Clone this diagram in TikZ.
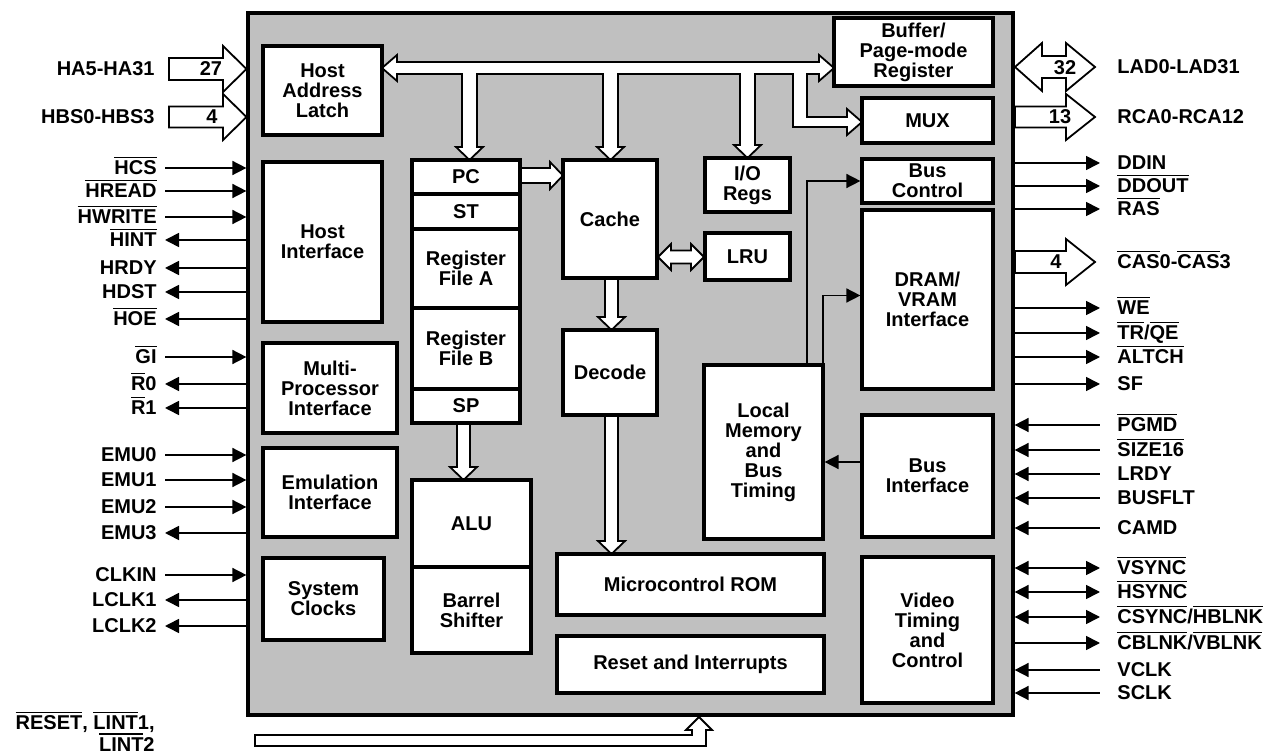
\documentclass[tikz,border=0pt]{standalone}
\usepackage{fontspec}
\setmainfont{Liberation Sans}
\usetikzlibrary{
    arrows.meta,
    positioning
}
\definecolor{silicon}{RGB}{192,192,192}
\newcommand{\nbar}[1]{\leavevmode\vbox{\hrule height 0.7pt\kern 1.3pt\hbox{#1}}}

\begin{document}
\begin{tikzpicture}[x=0.5pt, y=-0.5pt, >={Triangle[length=7pt, width=7pt]},
    blk/.style={draw, fill=white, line width=1.6pt, inner sep=0pt, align=center,
        font=\fontsize{10}{10}\selectfont\bfseries},
    lbl/.style={inner sep=0pt, font=\fontsize{10}{12}\selectfont\bfseries},
    pin/.style={line width=0.8pt},
    bus/.style={draw, fill=white, line width=0.9pt, line join=miter}]

    \useasboundingbox (0,0) rectangle (1275,753);

    % Chip
    \node[draw, fill=silicon, line width=1.6pt, minimum width=382.5pt, minimum height=351pt] (chip) at (630.5,364) {};

    % Host address inputs
    \draw[bus] (169,58) -- (223,58) -- (223,46) -- (246.5,69) -- (223,92) -- (223,80) -- (169,80) -- cycle;
    \draw[bus] (169,106.5) -- (223,106.5) -- (223,94) -- (246.5,117) -- (223,140) -- (223,127.5) -- (169,127.5) -- cycle;
    \node[lbl] (n27) at (211,69) {27};
    \node[lbl] (n4a) at (212,117) {4};
    \node[lbl, anchor=base east] (ha) at (155,75.5) {HA5-HA31};
    \node[lbl, anchor=base east] (hbs) at (155,123.5) {HBS0-HBS3};

    % Local bus outputs
    \draw[bus] (1015,67) -- (1042,43) -- (1042,56) -- (1066,56) -- (1066,43) -- (1095,67)
        -- (1066,91) -- (1066,78) -- (1042,78) -- (1042,91) -- cycle;
    \draw[bus] (1015,106.5) -- (1066,106.5) -- (1066,94) -- (1095,117) -- (1066,140) -- (1066,127.5) -- (1015,127.5) -- cycle;
    \draw[bus] (1015,251) -- (1066,251) -- (1066,239) -- (1095,262) -- (1066,285) -- (1066,273) -- (1015,273) -- cycle;
    \node[lbl] (n32) at (1065,68) {32};
    \node[lbl] (n13) at (1060,117) {13};
    \node[lbl] (n4b) at (1056,262) {4};
    \node[lbl, anchor=base west] (lad) at (1117,73.5) {LAD0-LAD31};
    \node[lbl, anchor=base west] (rca) at (1117,123.5) {RCA0-RCA12};
    \node[lbl, anchor=base west] (cas) at (1117,268.5) {\nbar{CAS}0-\nbar{CAS}3};

    % Internal bus
    \draw[bus] (382,68) -- (397,55) -- (397,62) -- (819,62) -- (819,55) -- (834,68)
        -- (819,81) -- (819,74) -- (807,74) -- (807,117) -- (847,117) -- (847,109)
        -- (862,122) -- (847,135) -- (847,127) -- (793,127) -- (793,74)
        -- (755,74) -- (755,145) -- (761,145) -- (747.5,158) -- (734,145) -- (740,145) -- (740,74)
        -- (618,74) -- (618,147) -- (624,147) -- (610.5,160) -- (597,147) -- (603,147) -- (603,74)
        -- (477,74) -- (477,147) -- (483,147) -- (469.5,160) -- (456,147) -- (462,147) -- (462,74)
        -- (397,74) -- (397,81) -- cycle;
    \draw[bus] (520,168) -- (550,168) -- (550,162) -- (563,175.5) -- (550,189) -- (550,183) -- (520,183) -- cycle;
    \draw[bus] (658,257) -- (671,244) -- (671,250.5) -- (691,250.5) -- (691,244) -- (704,257)
        -- (691,270) -- (691,263.5) -- (671,263.5) -- (671,270) -- cycle;
    \draw[bus] (605,278) -- (605,317) -- (598,317) -- (611.5,330) -- (625,317) -- (618,317) -- (618,278) -- cycle;
    \draw[bus] (605,415) -- (605,541) -- (598,541) -- (611.5,554) -- (625,541) -- (618,541) -- (618,415) -- cycle;
    \draw[bus] (457,423) -- (457,467) -- (450,467) -- (463.5,480) -- (477,467) -- (470,467) -- (470,423) -- cycle;

    % Reset and interrupt inputs
    \draw[bus] (255,735) -- (692,735) -- (692,730) -- (686,730) -- (699,717) -- (712,730) -- (706,730) -- (706,746) -- (255,746) -- cycle;
    \node[lbl, anchor=base east] (rstl) at (155,729.5) {\nbar{RESET}, \nbar{LINT}1,};
    \node[lbl, anchor=base east] (lintl) at (155,751) {\nbar{LINT}2};

    % Left column
    \node[blk, minimum width=59.5pt, minimum height=44.5pt] (hal) at (322.5,90.5) {Host\\Address\\Latch};
    \node[blk, minimum width=59.5pt, minimum height=80pt] (hif) at (322.5,242) {Host\\Interface};
    \node[blk, minimum width=67pt, minimum height=45pt] (mpi) at (330,388) {Multi-\\Processor\\Interface};
    \node[blk, minimum width=67pt, minimum height=44.5pt] (emi) at (330,492.5) {Emulation\\Interface};
    \node[blk, minimum width=60.5pt, minimum height=41pt] (clk) at (323.5,599) {System\\Clocks};

    % Registers
    \node[blk, minimum width=54pt, minimum height=17pt] (pc) at (466,177) {PC};
    \node[blk, minimum width=54pt, minimum height=17.5pt, below=-1.6pt of pc] (st) {ST};
    \node[blk, minimum width=54pt, minimum height=39.5pt, below=-1.6pt of st] (rfa) {Register\\File A};
    \node[blk, minimum width=54pt, minimum height=40.5pt, below=-1.6pt of rfa] (rfb) {Register\\File B};
    \node[blk, minimum width=54pt, minimum height=17pt, below=-1.6pt of rfb] (sp) {SP};
    \node[blk, minimum width=59.5pt, minimum height=43.5pt] (alu) at (471.5,523.5) {ALU};
    \node[blk, minimum width=59.5pt, minimum height=43pt, below=-1.6pt of alu] (bsh) {Barrel\\Shifter};

    % Centre
    \node[blk, minimum width=47pt, minimum height=59pt] (cache) at (610,219) {Cache};
    \node[blk, minimum width=47pt, minimum height=42.5pt] (dec) at (610,372.5) {Decode};
    \node[blk, minimum width=42.5pt, minimum height=27pt] (io) at (747.5,185) {I/O\\Regs};
    \node[blk, minimum width=42.5pt, minimum height=23.5pt] (lru) at (747.5,256.5) {LRU};
    \node[blk, minimum width=59.5pt, minimum height=87pt] (lmbt) at (763.5,452) {Local\\Memory\\and\\Bus\\Timing};
    \node[blk, minimum width=133.5pt, minimum height=30.5pt] (rom) at (690.5,584.5) {Microcontrol ROM};
    \node[blk, minimum width=133.5pt, minimum height=28.5pt] (rst) at (690.5,664.5) {Reset and Interrupts};

    % Right column
    \node[blk, minimum width=79.5pt, minimum height=34pt] (buf) at (913.5,52) {Buffer/\\Page-mode\\Register};
    \node[blk, minimum width=65.5pt, minimum height=22.5pt] (mux) at (927.5,120.5) {MUX};
    \node[blk, minimum width=65.5pt, minimum height=22pt] (bctl) at (927.5,181) {Bus\\Control};
    \node[blk, minimum width=65.5pt, minimum height=89.5pt] (dram) at (927.5,299.5) {DRAM/\\VRAM\\Interface};
    \node[blk, minimum width=65.5pt, minimum height=61pt] (bif) at (927.5,476) {Bus\\Interface};
    \node[blk, minimum width=65.5pt, minimum height=73pt] (vtc) at (927.5,630) {Video\\Timing\\and\\Control};

    % Local memory control lines
    \draw[pin, ->] ([xshift=-8.8pt]lmbt.north east) |- (bctl.west);
    \draw[pin, ->] ([xshift=-0.8pt]lmbt.north east) |- ([yshift=2pt]dram.west);
    \draw[pin, ->] ([yshift=7pt]bif.west) -- ([yshift=7pt]bif.west -| lmbt.east);

    % Left pins
    \foreach \y/\sig/\dir in {168/{\nbar{HCS}}/->, 191/{\nbar{HREAD}}/->, 217/{\nbar{HWRITE}}/->,
        240/{\nbar{HINT}}/<-, 268/HRDY/<-, 292/HDST/<-, 319/{\nbar{HOE}}/<-,
        357/{\nbar{GI}}/->, 384/{\nbar{R}0}/<-, 408/{\nbar{R}1}/<-,
        455/EMU0/->, 480/EMU1/->, 507/EMU2/->, 533/EMU3/<-,
        575/CLKIN/->, 600/LCLK1/<-, 626/LCLK2/<-} {
        \coordinate (p) at (165,\y);
        \node[lbl, anchor=base east] (ll\y) at ([shift={(-4pt,-3.25pt)}]p) {\sig};
        \draw[pin, \dir] (p) -- (p -| chip.west);
    }

    % Right pins
    \foreach \y/\sig/\dir in {163/DDIN/->, 186/{\nbar{DDOUT}}/->, 209/{\nbar{RAS}}/->,
        308/{\nbar{WE}}/->, 333/{\nbar{TR}/\nbar{QE}}/->, 357/{\nbar{ALTCH}}/->, 384/SF/->,
        425/{\nbar{PGMD}}/<-, 450/{\nbar{SIZE16}}/<-, 474/LRDY/<-, 498/BUSFLT/<-, 528/CAMD/<-,
        568/{\nbar{VSYNC}}/<->, 592/{\nbar{HSYNC}}/<->, 617/{\nbar{CSYNC}/\nbar{HBLNK}}/<->,
        643/{\nbar{CBLNK}/\nbar{VBLNK}}/->, 670/VCLK/<-, 693/SCLK/<-} {
        \coordinate (p) at (1100,\y);
        \node[lbl, anchor=base west] (rl\y) at ([shift={(8.5pt,-3.25pt)}]p) {\sig};
        \draw[pin, \dir] (p -| chip.east) -- (p);
    }
\end{tikzpicture}
\end{document}
